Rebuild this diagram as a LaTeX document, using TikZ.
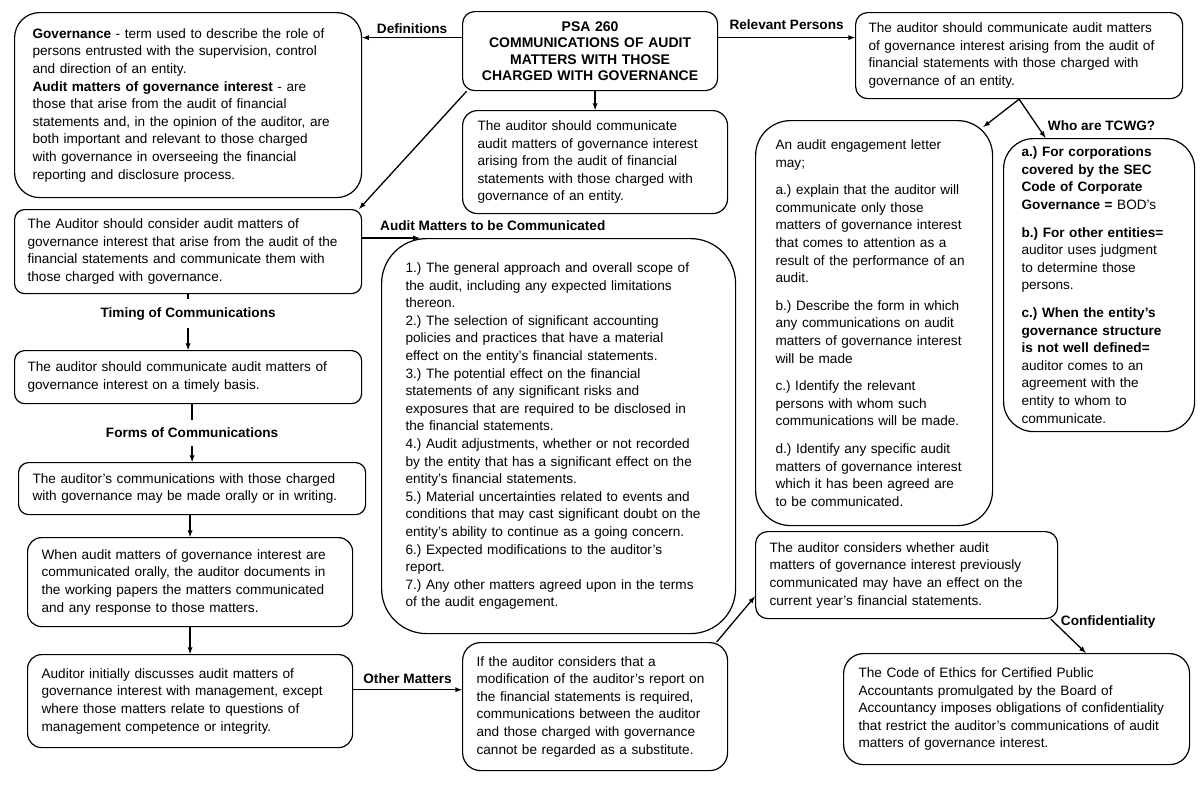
\documentclass[tikz,border=0pt]{standalone}
\usepackage{fontspec}
\setmainfont{Liberation Sans}
\usetikzlibrary{arrows,calc}
\frenchspacing
\tikzset{
    box/.style={draw,line width=1.2pt,anchor=north west,align=left,inner ysep=3pt,font=\fontsize{13.6}{17.6}\selectfont},
    lbl/.style={font=\fontsize{13.6}{17}\selectfont\bfseries},
    gap/.style={lbl,fill=white,inner ysep=8pt},
    conn/.style={->,line width=1.3pt}
}
\begin{document}
\begin{tikzpicture}[x=1pt,y=-1pt,>=latex]
    \useasboundingbox (0,0) rectangle (1200,785);

    \node[box,rounded corners=25pt,inner xsep=18pt,text width=311pt,minimum height=185pt] (Def) at (14,12) {\textbf{Governance} - term used to describe the role of\\ persons entrusted with the supervision, control\\ and direction of an entity.\\ \textbf{Audit matters of governance interest} - are\\ those that arise from the audit of financial\\ statements and, in the opinion of the auditor, are\\ both important and relevant to those charged\\ with governance in overseeing the financial\\ reporting and disclosure process.};
    \node[box,rounded corners=12pt,align=center,inner xsep=10pt,text width=235pt,minimum height=79pt,font=\fontsize{14}{16.5}\selectfont\bfseries] (PSA) at (462,11) {PSA 260\\ COMMUNICATIONS OF AUDIT\\ MATTERS WITH THOSE\\ CHARGED WITH GOVERNANCE};
    \node[box,rounded corners=15pt,inner xsep=15pt,text width=235pt,minimum height=103pt] (Comm) at (462,110) {The auditor should communicate\\ audit matters of governance interest\\ arising from the audit of financial\\ statements with those charged with\\ governance of an entity.};
    \node[box,rounded corners=12pt,inner xsep=13pt,text width=301pt,minimum height=86pt] (Rel) at (855,12) {The auditor should communicate audit matters\\ of governance interest arising from the audit of\\ financial statements with those charged with\\ governance of an entity.};
    \node[box,rounded corners=35pt,inner xsep=20pt,text width=197pt,minimum height=405pt] (Eng) at (755,120) {An audit engagement letter\\ may;\\[10pt] a.) explain that the auditor will\\ communicate only those\\ matters of governance interest\\ that comes to attention as a\\ result of the performance of an\\ audit.\\[10pt] b.) Describe the form in which\\ any communications on audit\\ matters of governance interest\\ will be made\\[10pt] c.) Identify the relevant\\ persons with whom such\\ communications will be made.\\[10pt] d.) Identify any specific audit\\ matters of governance interest\\ which it has been agreed are\\ to be communicated.};
    \node[box,rounded corners=30pt,inner xsep=18pt,text width=155pt,minimum height=293pt] (TCWG) at (1003,138) {\textbf{a.) For corporations}\\ \textbf{covered by the SEC}\\ \textbf{Code of Corporate}\\ \textbf{Governance =} BOD's\\[10pt] \textbf{b.) For other entities=}\\ auditor uses judgment\\ to determine those\\ persons.\\[10pt] \textbf{c.) When the entity's}\\ \textbf{governance structure}\\ \textbf{is not well defined=}\\ auditor comes to an\\ agreement with the\\ entity to whom to\\ communicate.};
    \node[box,rounded corners=10pt,inner xsep=13pt,text width=321pt,minimum height=84pt] (Cons) at (14,209) {The Auditor should consider audit matters of\\ governance interest that arise from the audit of the\\ financial statements and communicate them with\\ those charged with governance.};
    \node[box,rounded corners=45pt,inner xsep=24pt,text width=306pt,minimum height=395pt] (List) at (381,238) {1.) The general approach and overall scope of\\ the audit, including any expected limitations\\ thereon.\\ 2.) The selection of significant accounting\\ policies and practices that have a material\\ effect on the entity's financial statements.\\ 3.) The potential effect on the financial\\ statements of any significant risks and\\ exposures that are required to be disclosed in\\ the financial statements.\\ 4.) Audit adjustments, whether or not recorded\\ by the entity that has a significant effect on the\\ entity's financial statements.\\ 5.) Material uncertainties related to events and\\ conditions that may cast significant doubt on the\\ entity's ability to continue as a going concern.\\ 6.) Expected modifications to the auditor's\\ report.\\ 7.) Any other matters agreed upon in the terms\\ of the audit engagement.};
    \node[box,rounded corners=10pt,inner xsep=13pt,text width=321pt,minimum height=53pt] (Time) at (14,350) {The auditor should communicate audit matters of\\ governance interest on a timely basis.};
    \node[box,rounded corners=10pt,inner xsep=14pt,text width=319pt,minimum height=52pt] (Form) at (18,462) {The auditor's communications with those charged\\ with governance may be made orally or in writing.};
    \node[box,rounded corners=14pt,inner xsep=14pt,text width=297pt,minimum height=89pt] (Oral) at (27,537) {When audit matters of governance interest are\\ communicated orally, the auditor documents in\\ the working papers the matters communicated\\ and any response to those matters.};
    \node[box,rounded corners=14pt,inner xsep=14pt,text width=297pt,minimum height=93pt] (Init) at (27,654) {Auditor initially discusses audit matters of\\ governance interest with management, except\\ where those matters relate to questions of\\ management competence or integrity.};
    \node[box,rounded corners=18pt,inner xsep=14pt,text width=237pt,minimum height=128pt] (Other) at (462,642) {If the auditor considers that a\\ modification of the auditor's report on\\ the financial statements is required,\\ communications between the auditor\\ and those charged with governance\\ cannot be regarded as a substitute.};
    \node[box,rounded corners=12pt,inner xsep=14pt,text width=274pt,minimum height=87pt] (Prev) at (755,531) {The auditor considers whether audit\\ matters of governance interest previously\\ communicated may have an effect on the\\ current year's financial statements.};
    \node[box,rounded corners=20pt,inner xsep=15pt,text width=316pt,minimum height=111pt] (Code) at (843,653) {The Code of Ethics for Certified Public\\ Accountants promulgated by the Board of\\ Accountancy imposes obligations of confidentiality\\ that restrict the auditor's communications of audit\\ matters of governance interest.};

    \draw[conn] (PSA.174) --node[lbl,above]{Definitions} (PSA.174 -| Def.east);
    \draw[conn] (PSA.6) --node[lbl,above,yshift=4pt]{Relevant Persons} (PSA.6 -| Rel.west);
    \draw[conn] (PSA.south -| Comm.north) -- (Comm.north);
    \draw[conn] (PSA.198) -- (Cons.14);
    \draw[conn] (List.125 -| Cons.east) --node[lbl,pos=0,above right,xshift=14pt,yshift=3pt]{Audit Matters to be Communicated} (List.125);
    \draw[conn] (Cons.south) --node[gap,pos=0.35]{Timing of Communications} (Time.north);
    \draw[conn] (Form.north |- Time.south) --node[gap]{Forms of Communications} (Form.north);
    \draw[conn] (Oral.north |- Form.south) -- (Oral.north);
    \draw[conn] (Oral.south) -- (Init.north);
    \draw[conn] (Init.4) --node[lbl,above,yshift=2pt]{Other Matters} (Init.4 -| Other.west);
    \draw[conn] (Other.28) -- (Prev.188);
    \draw[conn] (Rel.south) -- ($(Eng.north east)+(-10,7)$);
    \draw[conn] (Rel.south) --node[lbl,pos=0.675,right,xshift=7pt]{Who are TCWG?} (TCWG.110);
    \draw[conn] (Prev.-17) --node[lbl,pos=0.09,right,xshift=3pt]{Confidentiality} (Code.39);
\end{tikzpicture}
\end{document}
